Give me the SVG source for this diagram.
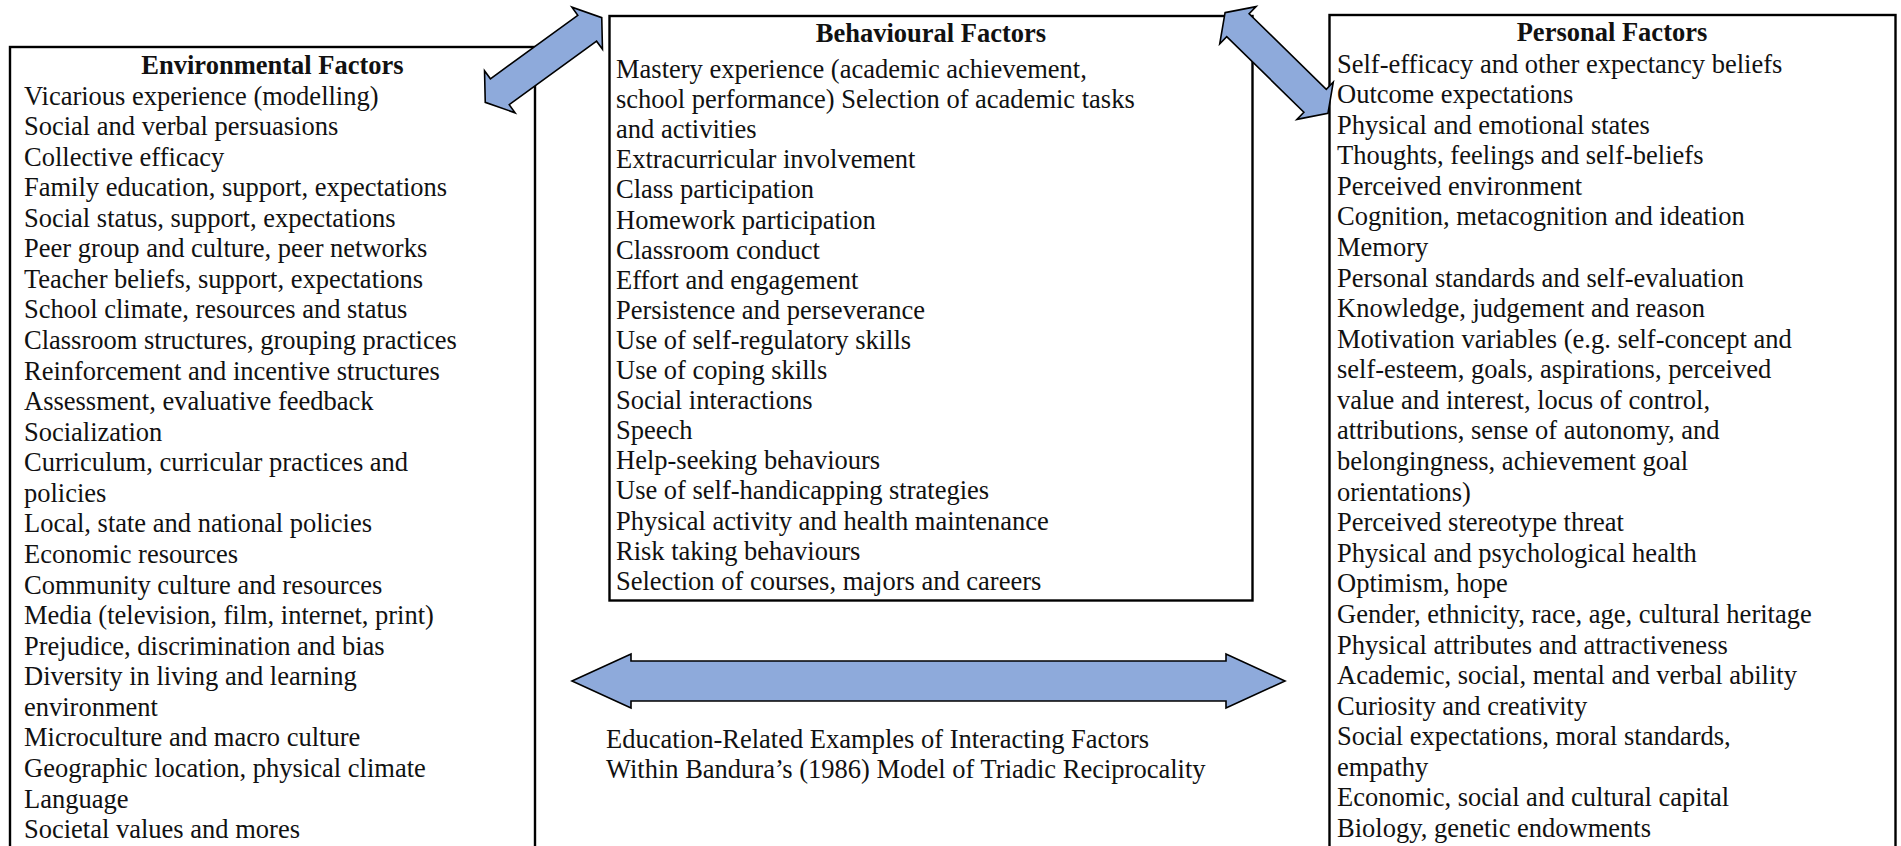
<svg xmlns="http://www.w3.org/2000/svg" width="1901" height="846" viewBox="0 0 1901 846">
  <style>
    .box { fill: #ffffff; stroke: #000000; stroke-width: 2.4; }
    .txt { font-family: "Liberation Serif", "Times New Roman", serif; font-size: 26.5px; fill: #111111; }
    .ttl { font-family: "Liberation Serif", "Times New Roman", serif; font-size: 26.5px; font-weight: bold; fill: #111111; text-anchor: middle; }
    .arrow { fill: #8eaadb; stroke: #000000; stroke-width: 1.6; stroke-linejoin: miter; }
  </style>
  <defs>
    <!-- double-headed block arrow along the x axis, centred on the origin -->
    <polygon id="diag-arrow" points="-72,0 -54,-26 -54,-16 54,-16 54,-26 72,0 54,26 54,16 -54,16 -54,26"/>
  </defs>
  <rect width="1901" height="846" fill="#ffffff"/>

  <g id="environmental">
    <rect class="box" x="10" y="47" width="525" height="805"/>
    <text class="ttl" x="272.5" y="74">Environmental Factors</text>
    <text class="txt" x="24" y="104.5">
      <tspan x="24" dy="0">Vicarious experience (modelling)</tspan>
      <tspan x="24" dy="30.57">Social and verbal persuasions</tspan>
      <tspan x="24" dy="30.57">Collective efficacy</tspan>
      <tspan x="24" dy="30.57">Family education, support, expectations</tspan>
      <tspan x="24" dy="30.57">Social status, support, expectations</tspan>
      <tspan x="24" dy="30.57">Peer group and culture, peer networks</tspan>
      <tspan x="24" dy="30.57">Teacher beliefs, support, expectations</tspan>
      <tspan x="24" dy="30.57">School climate, resources and status</tspan>
      <tspan x="24" dy="30.57">Classroom structures, grouping practices</tspan>
      <tspan x="24" dy="30.57">Reinforcement and incentive structures</tspan>
      <tspan x="24" dy="30.57">Assessment, evaluative feedback</tspan>
      <tspan x="24" dy="30.57">Socialization</tspan>
      <tspan x="24" dy="30.57">Curriculum, curricular practices and</tspan>
      <tspan x="24" dy="30.57">policies</tspan>
      <tspan x="24" dy="30.57">Local, state and national policies</tspan>
      <tspan x="24" dy="30.57">Economic resources</tspan>
      <tspan x="24" dy="30.57">Community culture and resources</tspan>
      <tspan x="24" dy="30.57">Media (television, film, internet, print)</tspan>
      <tspan x="24" dy="30.57">Prejudice, discrimination and bias</tspan>
      <tspan x="24" dy="30.57">Diversity in living and learning</tspan>
      <tspan x="24" dy="30.57">environment</tspan>
      <tspan x="24" dy="30.57">Microculture and macro culture</tspan>
      <tspan x="24" dy="30.57">Geographic location, physical climate</tspan>
      <tspan x="24" dy="30.57">Language</tspan>
      <tspan x="24" dy="30.57">Societal values and mores</tspan>
    </text>
  </g>

  <g id="behavioural">
    <rect class="box" x="609.5" y="16" width="643" height="584.5"/>
    <text class="ttl" x="931" y="42">Behavioural Factors</text>
    <text class="txt" x="616" y="78">
      <tspan x="616" dy="0">Mastery experience (academic achievement,</tspan>
      <tspan x="616" dy="30.1">school performance) Selection of academic tasks</tspan>
      <tspan x="616" dy="30.1">and activities</tspan>
      <tspan x="616" dy="30.1">Extracurricular involvement</tspan>
      <tspan x="616" dy="30.1">Class participation</tspan>
      <tspan x="616" dy="30.1">Homework participation</tspan>
      <tspan x="616" dy="30.1">Classroom conduct</tspan>
      <tspan x="616" dy="30.1">Effort and engagement</tspan>
      <tspan x="616" dy="30.1">Persistence and perseverance</tspan>
      <tspan x="616" dy="30.1">Use of self-regulatory skills</tspan>
      <tspan x="616" dy="30.1">Use of coping skills</tspan>
      <tspan x="616" dy="30.1">Social interactions</tspan>
      <tspan x="616" dy="30.1">Speech</tspan>
      <tspan x="616" dy="30.1">Help-seeking behaviours</tspan>
      <tspan x="616" dy="30.1">Use of self-handicapping strategies</tspan>
      <tspan x="616" dy="30.1">Physical activity and health maintenance</tspan>
      <tspan x="616" dy="30.1">Risk taking behaviours</tspan>
      <tspan x="616" dy="30.1">Selection of courses, majors and careers</tspan>
    </text>
  </g>

  <g id="personal">
    <rect class="box" x="1329.5" y="15" width="566" height="837"/>
    <text class="ttl" x="1612" y="41">Personal Factors</text>
    <text class="txt" x="1337" y="72.5">
      <tspan x="1337" dy="0">Self-efficacy and other expectancy beliefs</tspan>
      <tspan x="1337" dy="30.58">Outcome expectations</tspan>
      <tspan x="1337" dy="30.58">Physical and emotional states</tspan>
      <tspan x="1337" dy="30.58">Thoughts, feelings and self-beliefs</tspan>
      <tspan x="1337" dy="30.58">Perceived environment</tspan>
      <tspan x="1337" dy="30.58">Cognition, metacognition and ideation</tspan>
      <tspan x="1337" dy="30.58">Memory</tspan>
      <tspan x="1337" dy="30.58">Personal standards and self-evaluation</tspan>
      <tspan x="1337" dy="30.58">Knowledge, judgement and reason</tspan>
      <tspan x="1337" dy="30.58">Motivation variables (e.g. self-concept and</tspan>
      <tspan x="1337" dy="30.58">self-esteem, goals, aspirations, perceived</tspan>
      <tspan x="1337" dy="30.58">value and interest, locus of control,</tspan>
      <tspan x="1337" dy="30.58">attributions, sense of autonomy, and</tspan>
      <tspan x="1337" dy="30.58">belongingness, achievement goal</tspan>
      <tspan x="1337" dy="30.58">orientations)</tspan>
      <tspan x="1337" dy="30.58">Perceived stereotype threat</tspan>
      <tspan x="1337" dy="30.58">Physical and psychological health</tspan>
      <tspan x="1337" dy="30.58">Optimism, hope</tspan>
      <tspan x="1337" dy="30.58">Gender, ethnicity, race, age, cultural heritage</tspan>
      <tspan x="1337" dy="30.58">Physical attributes and attractiveness</tspan>
      <tspan x="1337" dy="30.58">Academic, social, mental and verbal ability</tspan>
      <tspan x="1337" dy="30.58">Curiosity and creativity</tspan>
      <tspan x="1337" dy="30.58">Social expectations, moral standards,</tspan>
      <tspan x="1337" dy="30.58">empathy</tspan>
      <tspan x="1337" dy="30.58">Economic, social and cultural capital</tspan>
      <tspan x="1337" dy="30.58">Biology, genetic endowments</tspan>
    </text>
  </g>

  <g id="caption">
    <text class="txt" x="606" y="748">
      <tspan x="606" dy="0">Education-Related Examples of Interacting Factors</tspan>
      <tspan x="606" dy="29.5">Within Bandura’s (1986) Model of Triadic Reciprocality</tspan>
    </text>
  </g>

  <g id="connectors">
    <!-- environment <-> behaviour -->
    <use href="#diag-arrow" class="arrow" transform="translate(543.5 60) rotate(-36)"/>
    <!-- behaviour <-> person -->
    <use href="#diag-arrow" class="arrow" transform="translate(1276.5 63) rotate(44.4)"/>
    <!-- environment <-> person -->
    <polygon class="arrow" points="572,681 631,654 631,661 1226,661 1226,654 1285,681 1226,708 1226,701 631,701 631,708"/>
  </g>
</svg>
